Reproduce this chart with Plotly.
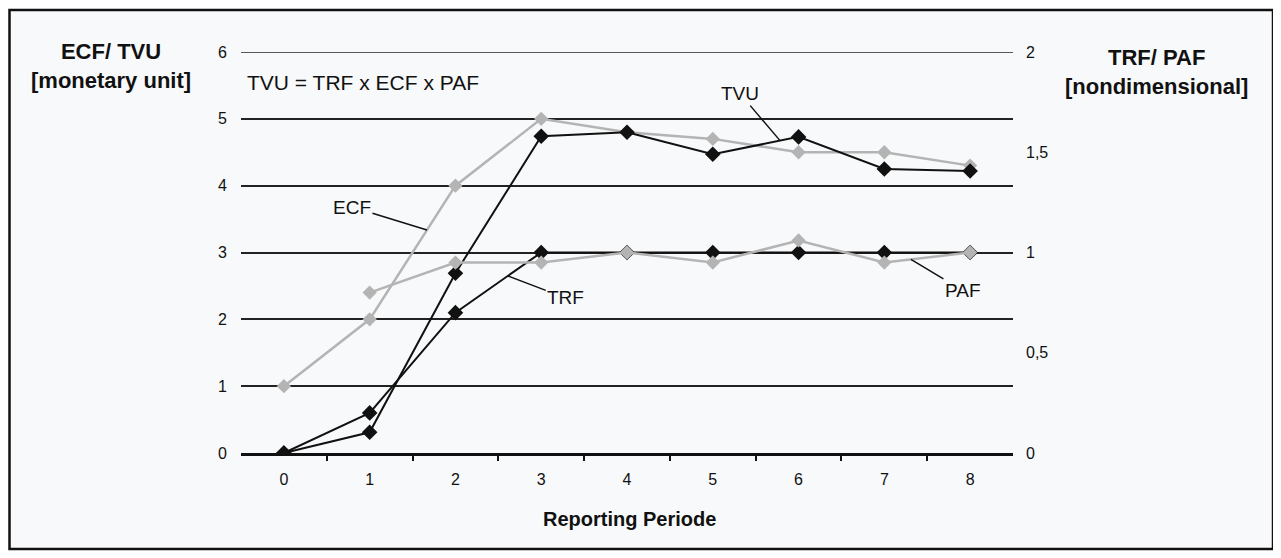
import numpy as np
import plotly.graph_objects as go

# ---------------- data ----------------
periods = [0, 1, 2, 3, 4, 5, 6, 7, 8]
ecf = [1.0, 2.0, 4.0, 5.0, 4.8, 4.7, 4.5, 4.5, 4.3]          # monetary unit (left axis)
tvu = [0.0, 0.31, 2.69, 4.74, 4.80, 4.47, 4.73, 4.25, 4.22]  # monetary unit (left axis)
trf = [0.0, 0.2, 0.7, 1.0, 1.0, 1.0, 1.0, 1.0, 1.0]          # nondimensional (right axis)
paf = [None, 0.8, 0.95, 0.95, 1.0, 0.95, 1.06, 0.95, 1.0]    # nondimensional (right axis)

left_ticks = [0, 1, 2, 3, 4, 5, 6]
right_ticks = [0, 0.5, 1, 1.5, 2]
right_ticktext = ["0", "0,5", "1", "1,5", "2"]

# ---------------- layout constants (page pixels) ----------------
PAGE_W, PAGE_H = 1281, 558
OFF = 8                                # browser body margin
W, H = PAGE_W - OFF, PAGE_H - OFF
L, R, T, B = 241, 1013, 52, 453        # plot area in page pixels
FONT = "Liberation Sans, Arial, sans-serif"
GRAY = "#b4b4b4"
BLACK = "#111111"


def px_x(p):
    return (p - L) / (R - L)


def px_y(p):
    return (B - p) / (B - T)


fig = go.Figure()

fig.add_trace(go.Scatter(x=periods, y=ecf, name="ECF", mode="lines+markers",
                         line=dict(color=GRAY, width=2.5),
                         marker=dict(symbol="diamond", size=11, color=GRAY)))
fig.add_trace(go.Scatter(x=periods, y=tvu, name="TVU", mode="lines+markers",
                         line=dict(color=BLACK, width=2),
                         marker=dict(symbol="diamond", size=12, color=BLACK)))
fig.add_trace(go.Scatter(x=periods, y=trf, name="TRF", mode="lines+markers", yaxis="y2",
                         line=dict(color=BLACK, width=2),
                         marker=dict(symbol="diamond", size=12, color=BLACK)))
fig.add_trace(go.Scatter(x=periods, y=paf, name="PAF", mode="lines+markers", yaxis="y2",
                         line=dict(color=GRAY, width=2.5),
                         marker=dict(symbol="diamond", size=11, color=GRAY)))

# pointer labels (heads lie on the series lines, interpolated from the data)
paf_x = [p for p, v in zip(periods, paf) if v is not None]
paf_y = [v for v in paf if v is not None]


def label(text, xh, series_x, series_y, yref, ax, ay):
    yh = float(np.interp(xh, series_x, series_y))
    fig.add_annotation(x=xh, y=yh, xref="x", yref=yref, text=text,
                       showarrow=True, arrowhead=0, arrowwidth=1.5, arrowcolor=BLACK,
                       ax=ax, ay=ay, font=dict(family=FONT, size=19, color=BLACK))


label("ECF", 1.668, periods, ecf, "y", -75, -23)
label("TRF", 2.61, periods, trf, "y2", 58, 22)
label("TVU", 5.784, periods, tvu, "y", -40, -47)
label("PAF", 7.31, paf_x, paf_y, "y2", 52, 31)

# formula
fig.add_annotation(x=px_x(245), y=px_y(82), xref="paper", yref="paper", xanchor="left",
                   yanchor="middle", showarrow=False, text="TVU = TRF x ECF x PAF",
                   font=dict(family=FONT, size=21, color=BLACK))

# axis titles
fig.add_annotation(x=px_x(111), y=px_y(66), xref="paper", yref="paper", xanchor="center",
                   yanchor="middle", showarrow=False, align="center",
                   text="<b>ECF/ TVU<br>[monetary unit]</b>",
                   font=dict(family=FONT, size=22, color=BLACK))
fig.add_annotation(x=px_x(1156), y=px_y(72), xref="paper", yref="paper", xanchor="center",
                   yanchor="middle", showarrow=False, align="center",
                   text="<b>TRF/ PAF<br>[nondimensional]</b>",
                   font=dict(family=FONT, size=22, color=BLACK))
fig.add_annotation(x=px_x(629), y=px_y(519), xref="paper", yref="paper", xanchor="center",
                   yanchor="middle", showarrow=False, text="<b>Reporting Periode</b>",
                   font=dict(family=FONT, size=20, color=BLACK))

# top gridline (at the range edge)
fig.add_shape(type="line", xref="paper", yref="y", x0=0, x1=1, y0=left_ticks[-1], y1=left_ticks[-1],
              line=dict(color="#222222", width=1.6))

# frame and background
fig.add_shape(type="rect", xref="paper", yref="paper",
              x0=px_x(9.5), x1=px_x(1273), y0=px_y(549), y1=px_y(10),
              line=dict(color=BLACK, width=2.5), fillcolor="#f8f9fa", layer="below")

fig.update_layout(
    width=W, height=H, autosize=False,
    margin=dict(l=L - OFF, r=PAGE_W - R, t=T - OFF, b=PAGE_H - B, pad=0),
    paper_bgcolor="white", plot_bgcolor="rgba(0,0,0,0)",
    showlegend=False,
    font=dict(family=FONT, size=16, color=BLACK),
    xaxis=dict(range=[-0.5, 8.5], tickvals=periods, ticktext=[str(p) for p in periods],
               ticks="", showgrid=False, zeroline=False,
               showline=True, linecolor=BLACK, linewidth=3,
               ticklabelstandoff=10,
               minor=dict(tickvals=[p + 0.5 for p in periods[:-1]], ticks="outside",
                          ticklen=5, tickwidth=2, tickcolor=BLACK, showgrid=False),
               tickfont=dict(family=FONT, size=16, color=BLACK)),
    yaxis=dict(range=[0, 6], tickvals=left_ticks, ticks="", showgrid=True,
               gridcolor="#222222", gridwidth=1.6, zeroline=False, showline=False,
               ticklabelstandoff=13,
               tickfont=dict(family=FONT, size=16, color=BLACK)),
    yaxis2=dict(range=[0, 2], overlaying="y", side="right", tickvals=right_ticks,
                ticktext=right_ticktext, ticks="", showgrid=False, zeroline=False,
                showline=False, ticklabelstandoff=12,
                tickfont=dict(family=FONT, size=16, color=BLACK)),
)

fig.write_html("out.html")
